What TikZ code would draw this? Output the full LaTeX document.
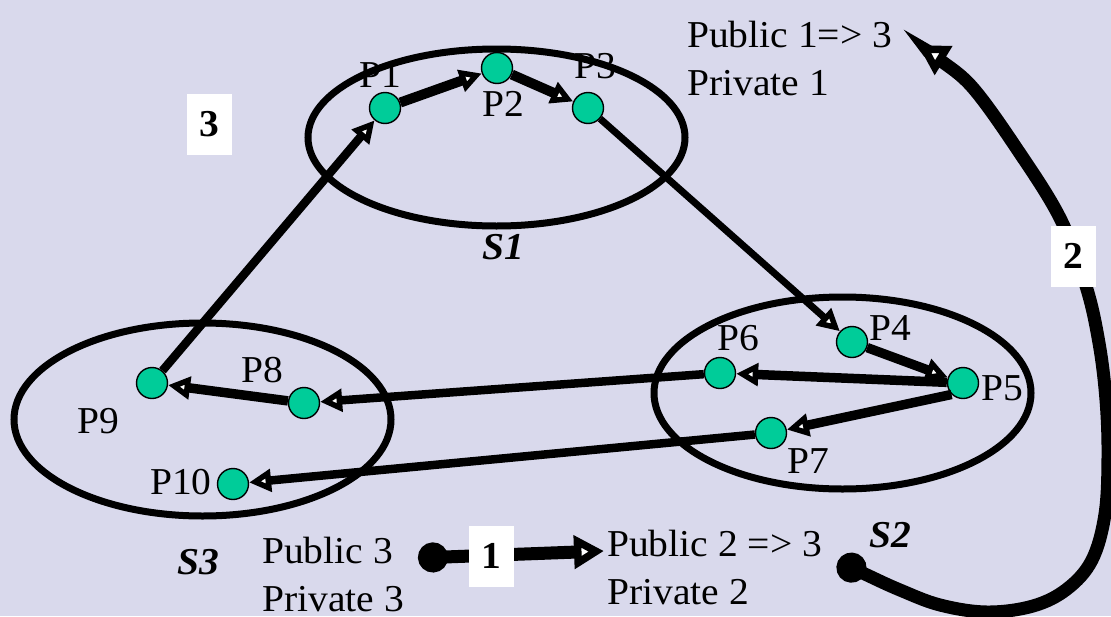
\documentclass[tikz,border=0pt]{standalone}
\usepackage{fontspec}
\setmainfont{Liberation Serif}[FakeStretch=1.04]
\usetikzlibrary{arrows.meta,shapes.geometric}
\definecolor{bg}{RGB}{217,217,236}
\definecolor{procfill}{RGB}{0,204,153}
\begin{document}
\begin{tikzpicture}[x=1pt,y=-1pt,
  txt/.style={font=\fontsize{38}{48}\selectfont, inner sep=0pt, align=left},
  plabel/.style={font=\fontsize{38}{38}\selectfont, inner sep=0pt},
  proc/.style={circle, fill=procfill, draw=black, line width=1.4pt, minimum size=31pt, inner sep=0pt},
  grp/.style={ellipse, draw=black, line width=7pt, inner sep=0pt},
  msg/.style={-{Triangle[fill=white,length=22pt,width=22pt]}, line width=9.5pt},
  hop/.style={{Circle[length=30pt]}-{Triangle[fill=white,length=30pt,width=32pt]}, line width=13pt},
  badge/.style={fill=white, minimum width=45pt, minimum height=61pt, inner sep=0pt, font=\fontsize{38}{38}\selectfont\bfseries},
  grpname/.style={font=\fontsize{38}{38}\selectfont\bfseries\itshape, inner sep=0pt}]

% canvas
\fill[bg] (0,0) rectangle (1111,616);
\useasboundingbox (0,0) rectangle (1111,616);

% the three sites
\node[grp, minimum width=377pt, minimum height=177pt] (S1) at (496.5,137.5) {};
\node[grp, minimum width=377pt, minimum height=192pt] (S2) at (842.5,393) {};
\node[grp, minimum width=377pt, minimum height=193pt] (S3) at (202.5,419.5) {};

% processes
\node[proc] (p1) at (385,108) {};
\node[proc] (p2) at (497,68) {};
\node[proc] (p3) at (588,108) {};
\node[proc] (p4) at (852,342) {};
\node[proc] (p5) at (963,383) {};
\node[proc] (p6) at (720,373) {};
\node[proc] (p7) at (771,433) {};
\node[proc] (p8) at (304,403) {};
\node[proc] (p9) at (152,383) {};
\node[proc] (p10) at (233,484) {};

% messages between processes
\draw[msg, line width=10pt] (p1) -- (p2);
\draw[msg, line width=10pt] (p2) -- (p3);
\draw[msg, line width=7pt] (p3) -- (p4);
\draw[msg] (p4) -- (p5);
\draw[msg] (p5) -- (p6);
\draw[msg] (p5.south west) -- (p7);
\draw[msg, line width=8.5pt] (p6) -- (p8);
\draw[msg, line width=8.5pt] (p7) -- (p10);
\draw[msg] (p8) -- (p9);
\draw[msg, line width=8.5pt] (p9) -- (p1);

% process labels
\node[plabel] (l1) at (380,75) {P1};
\node[plabel] (l2) at (503,104) {P2};
\node[plabel] (l3) at (595,66) {P3};
\node[plabel] (l4) at (890,328) {P4};
\node[plabel] (l5) at (1002,388) {P5};
\node[plabel] (l6) at (738,338) {P6};
\node[plabel] (l7) at (808,461) {P7};
\node[plabel] (l8) at (262,370) {P8};
\node[plabel] (l9) at (98,421) {P9};
\node[plabel] (l10) at (181,482) {P10};

% site names
\node[grpname] (n1) at (503,247) {S1};
\node[grpname] (n2) at (890,535) {S2};
\node[grpname] (n3) at (198,562) {S3};

% public / private counters (anchored on the baseline of the second line)
\node[txt, anchor=base west] (c1) at (687,95) {Public 1=> 3\\Private 1};
\node[txt, anchor=base west] (c3) at (262,611) {Public 3\\Private 3};
\node[txt, anchor=base west] (c2) at (607,604) {Public 2 => 3\\Private 2};

% token hops
\coordinate (a1) at (418,558);
\coordinate (b1) at (604,551);
\draw[hop] (a1) -- (b1);

\coordinate (a2) at (838,561);
\coordinate (b2) at (918,45);
\draw[hop] plot[smooth, tension=0.6] coordinates {(a2) (867,575) (900,590) (940,605) (987,612) (1033,606) (1067,589) (1092,560) (1105,514) (1108,457) (1106,400) (1099,343) (1086,286) (1060,218) (1017,149) (973,88) (940,60) (b2)};

% step numbers
\node[badge] (t1) at (491.5,556) {1};
\node[badge] (t2) at (1073,256) {2};
\node[badge] (t3) at (209.5,124.5) {3};
\end{tikzpicture}
\end{document}
